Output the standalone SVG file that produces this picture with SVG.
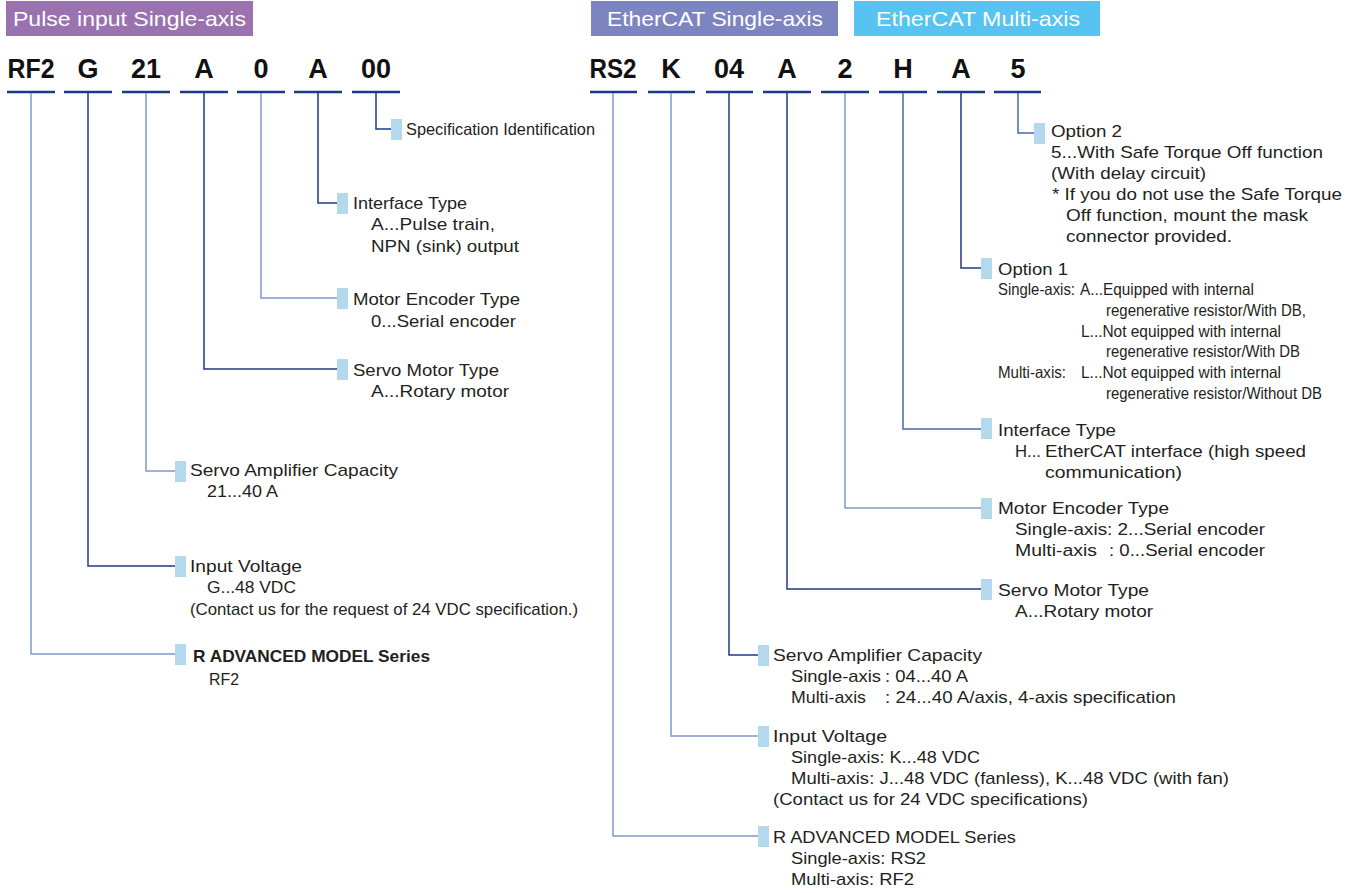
<svg xmlns="http://www.w3.org/2000/svg" width="1359" height="893" viewBox="0 0 1359 893">
<style>
.t{font-family:"Liberation Sans",Arial,sans-serif;font-size:17px;fill:#231f20}
.s{font-size:16.5px}
.b{font-weight:bold}
.code{font-family:"Liberation Sans",Arial,sans-serif;font-size:27px;font-weight:bold;fill:#111;text-anchor:middle}
.hd{font-family:"Liberation Sans",Arial,sans-serif;font-size:21px;fill:#fff}
.ul{stroke:#1b3a8a;stroke-width:2.5}
.cd{fill:none;stroke:#1f3b85;stroke-width:1.5}
.cl{fill:none;stroke:#8497c8;stroke-width:1.5}
.cm{fill:none;stroke:#4d67aa;stroke-width:1.5}
.mk{fill:#b5d9ec}
</style>
<rect width="1359" height="893" fill="#fff"/>
<g id="headers">
<rect x="6" y="1" width="247" height="35" fill="#9a72b0"/>
<text class="hd" x="13" y="26" textLength="233" lengthAdjust="spacingAndGlyphs">Pulse input Single-axis</text>
<rect x="591" y="1" width="247" height="35" fill="#7d85c1"/>
<text class="hd" x="607" y="26" textLength="216" lengthAdjust="spacingAndGlyphs">EtherCAT Single-axis</text>
<rect x="854" y="1" width="246" height="35" fill="#56c3f0"/>
<text class="hd" x="876" y="26" textLength="204" lengthAdjust="spacingAndGlyphs">EtherCAT Multi-axis</text>
</g>
<g id="code-left">
<text class="code" x="31" y="78" textLength="47" lengthAdjust="spacingAndGlyphs">RF2</text>
<text class="code" x="88" y="78">G</text>
<text class="code" x="146" y="78">21</text>
<text class="code" x="204" y="78">A</text>
<text class="code" x="261" y="78">0</text>
<text class="code" x="318" y="78">A</text>
<text class="code" x="376" y="78">00</text>
<line class="ul" x1="7" y1="92" x2="55" y2="92"/>
<line class="ul" x1="64" y1="92" x2="112" y2="92"/>
<line class="ul" x1="122" y1="92" x2="170" y2="92"/>
<line class="ul" x1="180" y1="92" x2="228" y2="92"/>
<line class="ul" x1="237" y1="92" x2="285" y2="92"/>
<line class="ul" x1="294" y1="92" x2="342" y2="92"/>
<line class="ul" x1="352" y1="92" x2="400" y2="92"/>
</g>
<g id="code-right">
<text class="code" x="613" y="78" textLength="47" lengthAdjust="spacingAndGlyphs">RS2</text>
<text class="code" x="671" y="78">K</text>
<text class="code" x="729" y="78">04</text>
<text class="code" x="787" y="78">A</text>
<text class="code" x="845" y="78">2</text>
<text class="code" x="903" y="78">H</text>
<text class="code" x="961" y="78">A</text>
<text class="code" x="1018" y="78">5</text>
<line class="ul" x1="590" y1="92" x2="637" y2="92"/>
<line class="ul" x1="648" y1="92" x2="695" y2="92"/>
<line class="ul" x1="706" y1="92" x2="753" y2="92"/>
<line class="ul" x1="763" y1="92" x2="811" y2="92"/>
<line class="ul" x1="821" y1="92" x2="869" y2="92"/>
<line class="ul" x1="879" y1="92" x2="927" y2="92"/>
<line class="ul" x1="937" y1="92" x2="985" y2="92"/>
<line class="ul" x1="994" y1="92" x2="1041" y2="92"/>
</g>
<g id="connectors">
<path class="cl" d="M31 93V654H175"/>
<path class="cd" d="M88 93V566H175"/>
<path class="cl" d="M146 93V471H175"/>
<path class="cd" d="M204 93V369H337"/>
<path class="cl" d="M261 93V298H337"/>
<path class="cd" d="M318 93V203H337"/>
<path class="cd" d="M376 93V129H391"/>
<path class="cl" d="M613 93V836H758"/>
<path class="cl" d="M671 93V736H758"/>
<path class="cd" d="M729 93V655H758"/>
<path class="cd" d="M787 93V589H981"/>
<path class="cl" d="M845 93V508H981"/>
<path class="cm" d="M903 93V429H981"/>
<path class="cd" d="M961 93V268H981"/>
<path class="cm" d="M1018 93V133H1034"/>
</g>
<g id="spec-id">
<rect class="mk" x="391" y="119" width="11" height="21"/>
<text class="t s" x="406" y="135" textLength="189" lengthAdjust="spacingAndGlyphs">Specification Identification</text>
</g>
<g id="interface-left">
<rect class="mk" x="337" y="193" width="11" height="21"/>
<text class="t" x="353" y="209" textLength="114" lengthAdjust="spacingAndGlyphs">Interface Type</text>
<text class="t" x="371" y="230" textLength="124" lengthAdjust="spacingAndGlyphs">A...Pulse train,</text>
<text class="t" x="371" y="252" textLength="148" lengthAdjust="spacingAndGlyphs">NPN (sink) output</text>
</g>
<g id="encoder-left">
<rect class="mk" x="337" y="288" width="11" height="21"/>
<text class="t" x="353" y="305" textLength="167" lengthAdjust="spacingAndGlyphs">Motor Encoder Type</text>
<text class="t" x="371" y="327" textLength="145" lengthAdjust="spacingAndGlyphs">0...Serial encoder</text>
</g>
<g id="motor-left">
<rect class="mk" x="337" y="359" width="11" height="21"/>
<text class="t" x="353" y="376" textLength="146" lengthAdjust="spacingAndGlyphs">Servo Motor Type</text>
<text class="t" x="371" y="397" textLength="138" lengthAdjust="spacingAndGlyphs">A...Rotary motor</text>
</g>
<g id="capacity-left">
<rect class="mk" x="175" y="461" width="11" height="21"/>
<text class="t" x="190" y="476" textLength="208" lengthAdjust="spacingAndGlyphs">Servo Amplifier Capacity</text>
<text class="t" x="207" y="497" textLength="71" lengthAdjust="spacingAndGlyphs">21...40 A</text>
</g>
<g id="voltage-left">
<rect class="mk" x="175" y="556" width="11" height="21"/>
<text class="t" x="190" y="572" textLength="112" lengthAdjust="spacingAndGlyphs">Input Voltage</text>
<text class="t" x="207" y="593" textLength="89" lengthAdjust="spacingAndGlyphs">G...48 VDC</text>
<text class="t" x="190" y="615" textLength="388" lengthAdjust="spacingAndGlyphs">(Contact us for the request of 24 VDC specification.)</text>
</g>
<g id="series-left">
<rect class="mk" x="175" y="644" width="11" height="21"/>
<text class="t b" x="193" y="662" textLength="237" lengthAdjust="spacingAndGlyphs">R ADVANCED MODEL Series</text>
<text class="t" x="209" y="685" textLength="30" lengthAdjust="spacingAndGlyphs">RF2</text>
</g>
<g id="option2">
<rect class="mk" x="1034" y="123" width="11" height="21"/>
<text class="t" x="1051" y="137" textLength="71" lengthAdjust="spacingAndGlyphs">Option 2</text>
<text class="t" x="1051" y="158" textLength="272" lengthAdjust="spacingAndGlyphs">5...With Safe Torque Off function</text>
<text class="t" x="1051" y="179" textLength="155" lengthAdjust="spacingAndGlyphs">(With delay circuit)</text>
<text class="t" x="1052" y="200" textLength="290" lengthAdjust="spacingAndGlyphs">* If you do not use the Safe Torque</text>
<text class="t" x="1066" y="221" textLength="242" lengthAdjust="spacingAndGlyphs">Off function, mount the mask</text>
<text class="t" x="1066" y="242" textLength="166" lengthAdjust="spacingAndGlyphs">connector provided.</text>
</g>
<g id="option1">
<rect class="mk" x="981" y="258" width="11" height="21"/>
<text class="t" x="998" y="275" textLength="70" lengthAdjust="spacingAndGlyphs">Option 1</text>
<text class="t s" x="998" y="295" textLength="77" lengthAdjust="spacingAndGlyphs">Single-axis:</text>
<text class="t s" x="1080" y="295" textLength="174" lengthAdjust="spacingAndGlyphs">A...Equipped with internal</text>
<text class="t s" x="1106" y="316" textLength="200" lengthAdjust="spacingAndGlyphs">regenerative resistor/With DB,</text>
<text class="t s" x="1081" y="337" textLength="200" lengthAdjust="spacingAndGlyphs">L...Not equipped with internal</text>
<text class="t s" x="1106" y="357" textLength="194" lengthAdjust="spacingAndGlyphs">regenerative resistor/With DB</text>
<text class="t s" x="998" y="378" textLength="68" lengthAdjust="spacingAndGlyphs">Multi-axis:</text>
<text class="t s" x="1081" y="378" textLength="200" lengthAdjust="spacingAndGlyphs">L...Not equipped with internal</text>
<text class="t s" x="1106" y="399" textLength="216" lengthAdjust="spacingAndGlyphs">regenerative resistor/Without DB</text>
</g>
<g id="interface-right">
<rect class="mk" x="981" y="418" width="11" height="21"/>
<text class="t" x="998" y="436" textLength="118" lengthAdjust="spacingAndGlyphs">Interface Type</text>
<text class="t" x="1015" y="457" textLength="26" lengthAdjust="spacingAndGlyphs">H...</text>
<text class="t" x="1045" y="457" textLength="261" lengthAdjust="spacingAndGlyphs">EtherCAT interface (high speed</text>
<text class="t" x="1045" y="478" textLength="137" lengthAdjust="spacingAndGlyphs">communication)</text>
</g>
<g id="encoder-right">
<rect class="mk" x="981" y="498" width="11" height="21"/>
<text class="t" x="998" y="514" textLength="171" lengthAdjust="spacingAndGlyphs">Motor Encoder Type</text>
<text class="t" x="1015" y="535" textLength="250" lengthAdjust="spacingAndGlyphs">Single-axis: 2...Serial encoder</text>
<text class="t" x="1015" y="556" textLength="82" lengthAdjust="spacingAndGlyphs">Multi-axis</text>
<text class="t" x="1109" y="556" textLength="156" lengthAdjust="spacingAndGlyphs">: 0...Serial encoder</text>
</g>
<g id="motor-right">
<rect class="mk" x="981" y="579" width="11" height="21"/>
<text class="t" x="998" y="596" textLength="151" lengthAdjust="spacingAndGlyphs">Servo Motor Type</text>
<text class="t" x="1015" y="617" textLength="138" lengthAdjust="spacingAndGlyphs">A...Rotary motor</text>
</g>
<g id="capacity-right">
<rect class="mk" x="758" y="645" width="11" height="21"/>
<text class="t" x="773" y="661" textLength="209" lengthAdjust="spacingAndGlyphs">Servo Amplifier Capacity</text>
<text class="t" x="791" y="682" textLength="90" lengthAdjust="spacingAndGlyphs">Single-axis</text>
<text class="t" x="885" y="682" textLength="83" lengthAdjust="spacingAndGlyphs">: 04...40 A</text>
<text class="t" x="791" y="703" textLength="75" lengthAdjust="spacingAndGlyphs">Multi-axis</text>
<text class="t" x="885" y="703" textLength="291" lengthAdjust="spacingAndGlyphs">: 24...40 A/axis, 4-axis specification</text>
</g>
<g id="voltage-right">
<rect class="mk" x="758" y="726" width="11" height="21"/>
<text class="t" x="773" y="742" textLength="114" lengthAdjust="spacingAndGlyphs">Input Voltage</text>
<text class="t" x="791" y="763" textLength="189" lengthAdjust="spacingAndGlyphs">Single-axis: K...48 VDC</text>
<text class="t" x="791" y="784" textLength="438" lengthAdjust="spacingAndGlyphs">Multi-axis: J...48 VDC (fanless), K...48 VDC (with fan)</text>
<text class="t" x="773" y="805" textLength="315" lengthAdjust="spacingAndGlyphs">(Contact us for 24 VDC specifications)</text>
</g>
<g id="series-right">
<rect class="mk" x="758" y="826" width="11" height="21"/>
<text class="t" x="773" y="843" textLength="243" lengthAdjust="spacingAndGlyphs">R ADVANCED MODEL Series</text>
<text class="t" x="791" y="864" textLength="135" lengthAdjust="spacingAndGlyphs">Single-axis: RS2</text>
<text class="t" x="791" y="885" textLength="123" lengthAdjust="spacingAndGlyphs">Multi-axis: RF2</text>
</g>
</svg>
